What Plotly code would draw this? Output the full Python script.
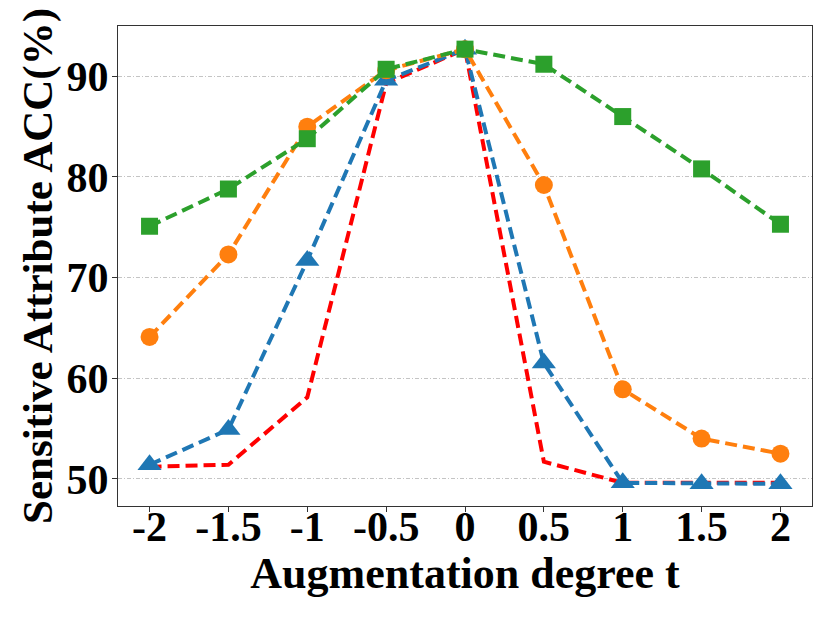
import plotly.graph_objects as go

# augmentation degree t
t_values = [-2, -1.5, -1, -0.5, 0, 0.5, 1, 1.5, 2]
t_labels = ["-2", "-1.5", "-1", "-0.5", "0", "0.5", "1", "1.5", "2"]

# sensitive attribute accuracy (%) per method
acc_red = [51.2, 51.4, 58.1, 89.3, 92.7, 51.7, 49.6, 49.6, 49.6]
acc_blue = [51.4, 54.9, 71.7, 89.6, 92.7, 61.5, 49.6, 49.5, 49.5]
acc_orange = [64.1, 72.3, 85.0, 90.6, 92.7, 79.2, 58.9, 54.0, 52.5]
acc_green = [75.1, 78.8, 83.8, 90.7, 92.7, 91.2, 86.0, 80.8, 75.3]

font_main = "Liberation Serif"
dash = "12px,6px"
lw = 4

fig = go.Figure()

# red line has no markers, drawn first so others sit on top
fig.add_trace(go.Scatter(x=t_values, y=acc_red, mode="lines",
                         line=dict(color="#ff0000", width=lw, dash=dash)))
fig.add_trace(go.Scatter(x=t_values, y=acc_blue, mode="lines+markers",
                         line=dict(color="#1f77b4", width=lw, dash=dash),
                         marker=dict(symbol="triangle-up", size=21, color="#1f77b4")))
fig.add_trace(go.Scatter(x=t_values, y=acc_orange, mode="lines+markers",
                         line=dict(color="#ff7f0e", width=lw, dash=dash),
                         marker=dict(symbol="circle", size=18, color="#ff7f0e")))
fig.add_trace(go.Scatter(x=t_values, y=acc_green, mode="lines+markers",
                         line=dict(color="#2ca02c", width=lw, dash=dash),
                         marker=dict(symbol="square", size=17, color="#2ca02c")))

# page body adds an 8px margin, so the figure is 8px smaller than the window
fig.update_layout(
    width=823, height=611,
    margin=dict(l=110, r=19, t=18, b=113),
    paper_bgcolor="white", plot_bgcolor="white",
    showlegend=False,
    font=dict(family=font_main, color="black"),
)

fig.update_xaxes(
    range=[-2.2, 2.2],
    tickvals=t_values, ticktext=t_labels,
    tickfont=dict(family=font_main, size=42, weight="bold"),
    ticks="outside", ticklen=5, tickcolor="#333", ticklabelstandoff=-22,
    showgrid=False, zeroline=False,
    showline=True, linecolor="#333", linewidth=1.2, mirror=True,
    title=dict(text="<b>Augmentation degree t</b>",
               font=dict(family=font_main, size=44), standoff=0),
)

fig.update_yaxes(
    range=[47.3, 95.0],
    tickvals=[50, 60, 70, 80, 90],
    tickfont=dict(family=font_main, size=42, weight="bold"),
    ticks="outside", ticklen=5, tickcolor="#333", ticklabelstandoff=-5,
    showgrid=True, gridcolor="#c4c4c4", gridwidth=1, griddash="4px,2px,1px,2px",
    zeroline=False,
    showline=True, linecolor="#333", linewidth=1.2, mirror=True,
    title=dict(text="<b>Sensitive Attribute ACC(%)</b>",
               font=dict(family=font_main, size=43), standoff=0),
)

fig.write_html("out.html")
